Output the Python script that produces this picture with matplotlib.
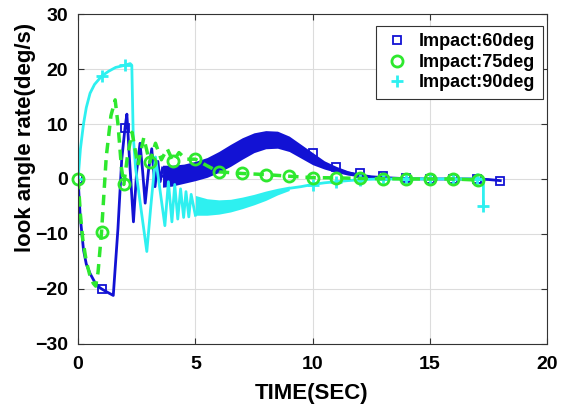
import numpy as np
import matplotlib
matplotlib.use('Agg')
import matplotlib.pyplot as plt
from matplotlib.lines import Line2D

plt.rcParams['font.family'] = ['Liberation Sans', 'DejaVu Sans']
plt.rcParams['font.weight'] = 'bold'

# Impact 60 deg (blue): start transient, band, tail
t60 = [0, 0.09, 0.23, 0.35, 0.51, 0.7, 0.87, 1.0, 1.2, 1.5, 1.7, 1.86, 2.0, 2.08,
       2.2, 2.36, 2.5, 2.64, 2.75, 2.86, 3.0, 3.14, 3.28, 3.4, 3.5, 3.6]
v60 = [0, -6.8, -12.9, -15.5, -17.2, -18.7, -19.6, -20, -20.5, -21.2, -9, 3.5, 9.3, 11.8,
       3, -7.8, 1.5, 6.5, 1.5, -4.4, 1.5, 5.5, -1.4, 3.2, -0.5, 2.0]
t60_band = [3.6, 4.0, 4.5, 5.0, 5.5, 6.0, 6.5, 7.0, 7.5, 8.0, 8.5, 9.0, 9.5,
            10.0, 10.5, 11.0, 11.5, 12.0, 12.5, 13.0]
lo60 = [-1.5, -1.3, -0.8, -0.3, 0.3, 1.2, 2.3, 3.6, 4.8, 5.5, 5.6, 5.0, 3.8,
        2.6, 1.8, 1.2, 0.7, 0.4, 0.2, 0.1]
hi60 = [2.5, 2.5, 2.7, 3.2, 3.9, 5.0, 6.3, 7.5, 8.4, 8.8, 8.7, 7.8, 6.3,
        4.8, 3.3, 2.3, 1.5, 1.0, 0.6, 0.4]
t60_tail = [13.0, 13.5, 14, 15, 16, 17, 17.5, 18]
v60_tail = [0.25, 0.15, 0.05, 0, 0, 0, -0.1, -0.3]
m60_t = [0, 1, 2, 10, 11, 12, 13, 14, 15, 16, 17, 18]
m60_v = [0, -20, 9.3, 4.8, 2.1, 1.15, 0.5, 0.1, 0, 0, 0, -0.3]

# Impact 75 deg (green dashed)
t75 = [0, 0.1, 0.2, 0.35, 0.5, 0.65, 0.75, 0.85, 1.0, 1.2, 1.4, 1.58, 1.7, 1.85, 1.95,
       2.1, 2.3, 2.55, 2.8, 3.05, 3.3, 3.55, 3.8, 4.05, 4.3, 4.6, 5.0, 5.5, 6.0,
       7.0, 8.0, 9.0, 10, 11, 12, 13, 14, 15, 16, 17.05]
v75 = [0, -6.5, -11, -15, -17.5, -19, -19.5, -17, -9.6, 4, 11.5, 14.4, 10, 2, -1.0,
       4, 8.5, 2.5, 7.5, 3, 6.5, 3.5, 5.5, 3.2, 4.8, 3.6, 3.6, 2.4, 1.3,
       1.0, 0.8, 0.5, 0.25, 0.2, 0.1, 0.05, 0, 0, 0, -0.2]
m75_t = [0, 1, 1.95, 3.05, 4.05, 5.0, 6.0, 7.0, 8.0, 9.0, 10, 11, 12, 13, 14, 15, 16, 17.05]
m75_v = [0, -9.6, -1.0, 3, 3.2, 3.6, 1.3, 1.0, 0.8, 0.5, 0.25, 0.2, 0.1, 0.05, 0, 0, 0, -0.2]

# Impact 90 deg (cyan)
t90 = [0, 0.1, 0.23, 0.35, 0.51, 0.7, 1.0, 1.3, 1.6, 2.0, 2.22, 2.29, 2.35, 2.45,
       2.7, 2.93, 3.1, 3.3, 3.7, 3.85, 4.0, 4.12, 4.25, 4.37, 4.5, 4.6, 4.72, 4.82, 5.0]
v90 = [0, 5.5, 10, 13, 15.6, 17.2, 18.7, 19.6, 20.3, 20.7, 21, 20.7, 8, 2,
       -6, -13.2, -5, 4, -8.5, -0.5, -7.8, -1.0, -7.3, -1.8, -7.0, -2.3, -6.9, -2.8, -6.6]
t90_band = [5.0, 5.5, 6.0, 6.5, 7.0, 7.5, 8.0, 8.5, 9.0]
lo90 = [-6.6, -6.6, -6.4, -6.0, -5.4, -4.7, -3.9, -2.9, -2.1]
hi90 = [-3.0, -3.6, -3.8, -3.7, -3.3, -2.8, -2.2, -1.7, -1.3]
t90_tail = [9.0, 9.5, 10, 10.5, 11, 11.5, 12, 12.5, 13, 14, 15, 16, 17, 17.28, 17.28]
v90_tail = [-1.7, -1.4, -1.0, -0.7, -0.5, -0.3, -0.15, -0.05, 0, 0, 0, 0, 0, 0, -4.9]
m90_t = [0, 1, 2, 10, 11, 12, 13, 14, 15, 16, 17, 17.28]
m90_v = [0, 18.7, 20.7, -1.1, -0.5, -0.15, 0, 0, 0, 0, 0, -4.9]

BLUE = '#1212d4'
GREEN = '#2ee82e'
CYAN = '#2ef0f0'

fig = plt.figure(figsize=(5.7, 4.04), dpi=100)
ax = fig.add_axes([0.137, 0.149, 0.823, 0.816])

# blue
ax.plot(t60, v60, color=BLUE, lw=2)
ax.fill_between(t60_band, lo60, hi60, color=BLUE, lw=0)
ax.plot(t60_band, (np.array(lo60) + np.array(hi60)) / 2, color=BLUE, lw=2)
ax.plot(t60_tail, v60_tail, color=BLUE, lw=2)
ax.plot(m60_t, m60_v, ls='none', marker='s', ms=5.5, mfc='none', mec=BLUE, mew=1.3)

# cyan
ax.plot(t90, v90, color=CYAN, lw=2)
ax.fill_between(t90_band, lo90, hi90, color=CYAN, lw=0)
ax.plot(t90_tail, v90_tail, color=CYAN, lw=2)
ax.plot(m90_t, m90_v, ls='none', marker='+', ms=8, mec=CYAN, mew=2)

# green
ax.plot(t75, v75, color=GREEN, lw=2.5, ls=(0, (3, 2)))
ax.plot(m75_t, m75_v, ls='none', marker='o', ms=8, mfc='none', mec=GREEN, mew=2, clip_on=False)

ax.set_xlim(0, 20)
ax.set_ylim(-30, 30)
ax.set_xticks([0, 5, 10, 15, 20])
ax.set_yticks([-30, -20, -10, 0, 10, 20, 30])
ax.grid(True, color='#dcdcdc', lw=0.8)
ax.set_axisbelow(True)
ax.tick_params(direction='in', top=True, right=True, labelsize=14, length=4, color='#333333')
ax.tick_params(axis='x', pad=9)
ax.tick_params(axis='y', pad=7)
for s in ax.spines.values():
    s.set_color('#333333')
    s.set_linewidth(0.8)

ax.set_xlabel('TIME(SEC)', fontsize=16, fontweight='bold')
ax.set_ylabel('look angle rate(deg/s)', fontsize=16, fontweight='bold')
ax.xaxis.set_label_coords(0.498, -0.12)
ax.yaxis.set_label_coords(-0.09, 0.627)

handles = [
    Line2D([], [], ls='none', marker='s', ms=5.5, mfc='none', mec=BLUE, mew=1.3),
    Line2D([], [], ls='none', marker='o', ms=8, mfc='none', mec=GREEN, mew=2),
    Line2D([], [], ls='none', marker='+', ms=8, mec=CYAN, mew=2),
]
leg = ax.legend(handles, ['Impact:60deg', 'Impact:75deg', 'Impact:90deg'],
                loc='upper right', bbox_to_anchor=(0.99, 0.964), borderaxespad=0,
                fontsize=13, fancybox=False, edgecolor='#333333', framealpha=1,
                handlelength=1.6, handletextpad=0.4, labelspacing=0.2, borderpad=0.4)
leg.get_frame().set_linewidth(0.8)

fig.savefig('out.png', dpi=100)
